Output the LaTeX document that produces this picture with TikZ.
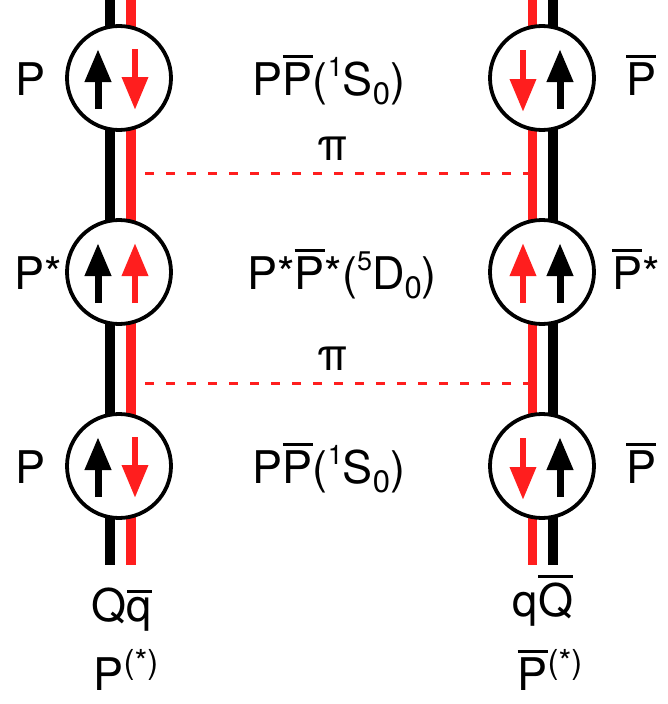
\documentclass[tikz,border=0pt]{standalone}
\usepackage{fontspec}
\setmainfont{TeX Gyre Heros}
\usetikzlibrary{arrows.meta}
\definecolor{qred}{RGB}{255,30,30}
\newcommand{\ob}[1]{\setbox0\hbox{#1}\rlap{\vrule width \wd0 height \dimexpr\ht0+7pt\relax depth -\dimexpr\ht0+4pt\relax}\box0}
\newcommand{\sups}[1]{\raisebox{19pt}{\fontsize{27}{27}\selectfont #1}}
\newcommand{\subs}[1]{\raisebox{-9pt}{\fontsize{31}{31}\selectfont #1}}
\newcommand{\supp}[1]{\raisebox{17pt}{\fontsize{33}{33}\selectfont #1}}
\begin{document}
\begin{tikzpicture}[x=1pt,y=-1pt,
  lbl/.style={anchor=base,inner sep=0pt,font=\fontsize{45}{50}\selectfont},
  blk/.style={line width=10pt,black},
  rd/.style={line width=9.5pt,qred},
  meson/.style={circle,draw=black,line width=3.8pt,fill=white,minimum size=104pt,inner sep=0pt},
  spinb/.style={line width=7pt,black,-{Triangle[length=33pt,width=25pt]}},
  spinr/.style={line width=6.5pt,qred,-{Triangle[length=33pt,width=25pt]}},
  pion/.style={line width=3pt,qred,dash pattern=on 9pt off 12pt}]
\path[use as bounding box] (0,0) rectangle (668,704);
% quark lines
\coordinate (lbt) at (110,0); \coordinate (lbb) at (110,565);
\coordinate (lrt) at (131,0); \coordinate (lrb) at (131,565);
\coordinate (rrt) at (532.5,0); \coordinate (rrb) at (532.5,565);
\coordinate (rbt) at (553,0); \coordinate (rbb) at (553,565);
\draw[blk] (lbt) -- (lbb);
\draw[rd] (lrt) -- (lrb);
\draw[rd] (rrt) -- (rrb);
\draw[blk] (rbt) -- (rbb);
% pion exchanges
\coordinate (p1a) at (145,173); \coordinate (p1b) at (528,173);
\coordinate (p2a) at (145,383); \coordinate (p2b) at (528,383);
\draw[pion] (p1a) -- (p1b);
\draw[pion] (p2a) -- (p2b);
% mesons
\node[meson] (L1) at (119,78) {};
\node[meson] (L2) at (119,272) {};
\node[meson] (L3) at (119,466) {};
\node[meson] (R1) at (542,78) {};
\node[meson] (R2) at (542,272) {};
\node[meson] (R3) at (542,466) {};
% spins
\foreach \n in {1,2,3}{
  \path (L\n.center) +(-21,31) coordinate (lb\n s) +(-21,-29) coordinate (lb\n e);
  \draw[spinb] (lb\n s) -- (lb\n e);
  \path (R\n.center) +(18,31) coordinate (rb\n s) +(18,-29) coordinate (rb\n e);
  \draw[spinb] (rb\n s) -- (rb\n e);
}
\path (L1.center) +(16,-29) coordinate (a1) +(16,32) coordinate (b1);
\draw[spinr] (a1) -- (b1);
\path (L2.center) +(16,31) coordinate (a2) +(16,-29) coordinate (b2);
\draw[spinr] (a2) -- (b2);
\path (L3.center) +(16,-29) coordinate (a3) +(16,32) coordinate (b3);
\draw[spinr] (a3) -- (b3);
\path (R1.center) +(-19,-28) coordinate (c1) +(-19,34) coordinate (d1);
\draw[spinr] (c1) -- (d1);
\path (R2.center) +(-19,31) coordinate (c2) +(-19,-29) coordinate (d2);
\draw[spinr] (c2) -- (d2);
\path (R3.center) +(-19,-28) coordinate (c3) +(-19,34) coordinate (d3);
\draw[spinr] (c3) -- (d3);
% labels
\node[lbl] (tL1) at (31,95) {P};
\node[lbl] (tL2) at (38,289) {P*};
\node[lbl] (tL3) at (31,483) {P};
\node[lbl] (tR1) at (641,95) {\ob{P}};
\node[lbl] (tR2) at (636,289) {\ob{P}*};
\node[lbl] (tR3) at (641,483) {\ob{P}};
\node[lbl] (tC1) at (329,95) {P\ob{P}(\sups{1}S\subs{0})};
\node[lbl] (tC2) at (342,289) {P*\ob{P}*(\sups{5}D\subs{0})};
\node[lbl] (tC3) at (329,483) {P\ob{P}(\sups{1}S\subs{0})};
\node[lbl] (pi1) at (333,160) {π};
\node[lbl] (pi2) at (333,370) {π};
\node[lbl] (bL1) at (122,621) {Q\ob{q}};
\node[lbl] (bL2) at (126,690) {P\supp{(*)}};
\node[lbl] (bR1) at (543,616) {q\ob{Q}};
\node[lbl] (bR2) at (550,690) {\ob{P}\supp{(*)}};
\end{tikzpicture}
\end{document}
